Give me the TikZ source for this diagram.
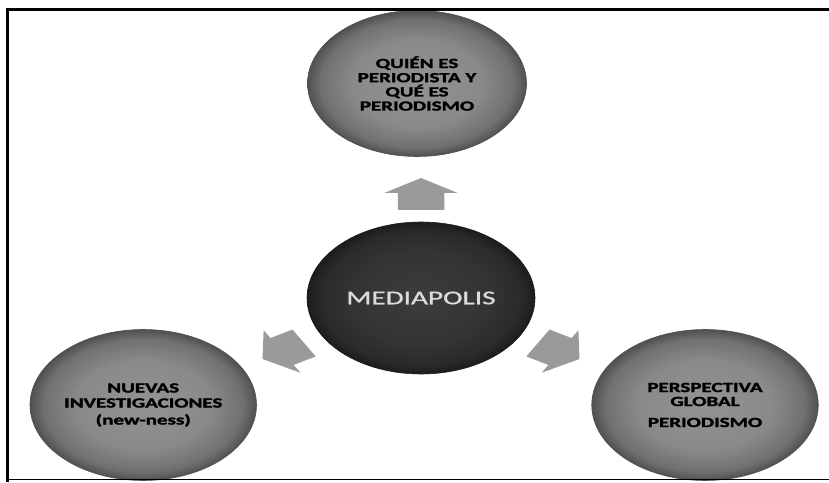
\documentclass[tikz,border=0pt]{standalone}
\usepackage{fontspec}
\setmainfont{Carlito}
\newfontfamily\heavyfont{Carlito}[FakeBold=1.6]
\newfontfamily\corefont{Carlito}[FakeBold=0.8]
\definecolor{gA}{HTML}{939393}
\definecolor{gB}{HTML}{898989}
\definecolor{gC}{HTML}{707070}
\definecolor{gD}{HTML}{505050}
\definecolor{dA}{HTML}{3C3C3C}
\definecolor{dB}{HTML}{343434}
\definecolor{dC}{HTML}{2A2A2A}
\definecolor{dD}{HTML}{1C1C1C}
\definecolor{arrowgrey}{HTML}{9A9A9A}
\definecolor{coretext}{HTML}{DCDCDC}
\definecolor{baseline}{HTML}{D6D6D6}
\pgfdeclareradialshading{outerball}{\pgfpoint{0bp}{0bp}}{color(0bp)=(gA); color(15bp)=(gB); color(22bp)=(gC); color(25bp)=(gD); color(50bp)=(gD)}
\pgfdeclareradialshading{coreball}{\pgfpoint{0bp}{0bp}}{color(0bp)=(dA); color(15bp)=(dB); color(22bp)=(dC); color(25bp)=(dD); color(50bp)=(dD)}
\begin{document}
\begin{tikzpicture}[x=1pt,y=1pt,xscale=1.5,
  ball/.style={circle, shade, shading=outerball, draw=gD, line width=0.6pt,
    transform shape, inner sep=0pt, align=center,
    font=\heavyfont\bfseries\fontsize{14}{13}\selectfont, text=black},
  core/.style={circle, shade, shading=coreball, draw=dD, line width=0.6pt,
    transform shape, inner sep=0pt, align=center,
    font=\corefont\fontsize{19.5}{20}\selectfont, text=coretext},
  blockarrow/.style={fill=arrowgrey}]
\useasboundingbox (0,0) rectangle (552.667,482);
\fill[white] (0,0) rectangle (552.667,482);
\clip (0,0) rectangle (552.667,482);
% circles
\node[core, minimum size=152pt] (c) at (280.67,184) {MEDIAPOLIS};
\node[ball, minimum size=146pt] (t) at (278,398.5) {QUIÉN ES\\[1.2pt]PERIODISTA Y\\[1.2pt]QUÉ ES\\[1.2pt]PERIODISMO};
\node[ball, minimum size=151pt] (l) at (95.5,77) {NUEVAS\\[2pt]INVESTIGACIONES\\[4pt](new-ness)};
\node[ball, minimum size=151pt] (r) at (470,77) {PERSPECTIVA\\[1pt]GLOBAL\\[8pt]PERIODISMO};
% block arrows
\foreach \ang/\d in {90/88,210/90,330/90} {
  \begin{scope}[shift={(280.67,184)}, rotate=\ang]
    \fill[blockarrow] (\d,15.5) -- ++(17,0) -- ++(0,9) -- ++(15,-24.5)
      -- ++(-15,-24.5) -- ++(0,9) -- ++(-17,0) -- cycle;
  \end{scope}
}
% frame
\fill[black] (4,471) rectangle (552.667,474);
\fill[black] (4,0) rectangle (6,474);
\draw[baseline, line width=1pt] (6,3) -- (552.667,3);
\end{tikzpicture}
\end{document}
